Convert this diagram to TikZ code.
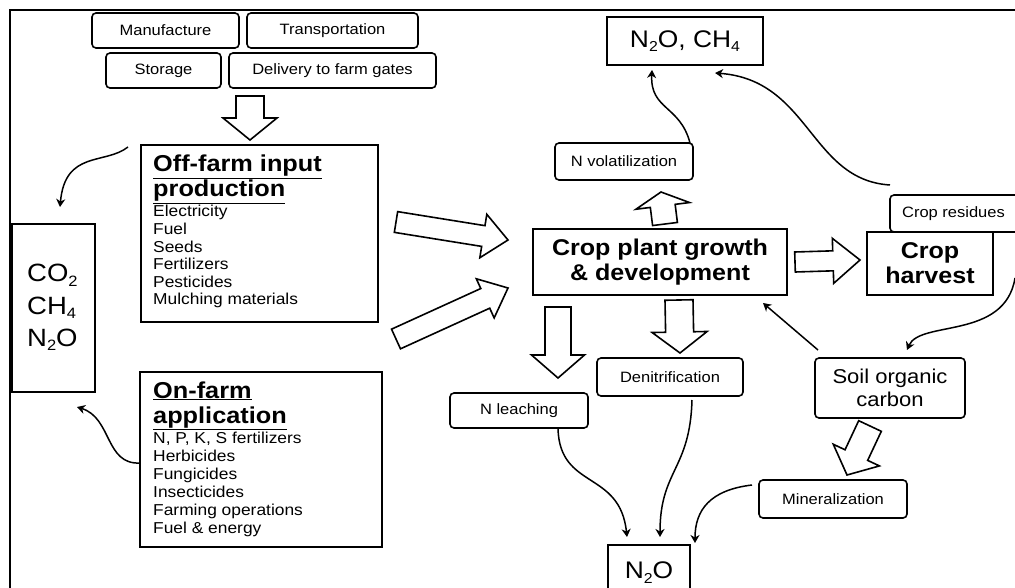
\documentclass[tikz,border=0pt]{standalone}
\usepackage{fontspec}
\setmainfont{Liberation Sans}[FakeStretch=1.1]
\usetikzlibrary{arrows.meta,calc}
% hollow block arrow: tail, tip, shaft half width, head half width, head length
\newcommand\myharrow[5]{%
  \coordinate (#1hb) at ($(#2)!#5pt!(#1)$);
  \draw[hollow] ($(#1)!#3pt!90:(#2)$) -- ($(#1hb)!#3pt!90:(#2)$) -- ($(#1hb)!#4pt!90:(#2)$) -- (#2)
    -- ($(#1hb)!#4pt!-90:(#2)$) -- ($(#1hb)!#3pt!-90:(#2)$) -- ($(#1)!#3pt!-90:(#2)$) -- cycle;}
\newcommand\mysubs[1]{\raisebox{-0.35ex}{\scalebox{0.6}{#1}}}
\begin{document}
\begin{tikzpicture}[x=1pt,y=-1pt,
  box/.style={draw, line width=1.8pt, fill=white, inner sep=0pt, align=center},
  rbox/.style={box, rounded corners=4pt, line width=1.6pt},
  smalltxt/.style={font=\fontsize{15}{18}\selectfont},
  listtxt/.style={font=\fontsize{15.8}{18}\selectfont, inner sep=0pt, anchor=base west},
  titletxt/.style={font=\fontsize{23}{25}\selectfont\bfseries, inner sep=0pt, anchor=base west},
  gastxt/.style={font=\fontsize{25}{30}\selectfont, inner sep=0pt, anchor=base west},
  gasbig/.style={font=\fontsize{24}{28}\selectfont},
  bigbold/.style={font=\fontsize{22.8}{25}\selectfont\bfseries},
  soiltxt/.style={font=\fontsize{20}{23}\selectfont},
  curve/.style={line width=1.5pt, -{Stealth[length=8pt,width=9pt,inset=2.5pt]}},
  hollow/.style={draw, line width=1.6pt, fill=white, line join=miter},
  frame/.style={line width=2pt}
]
\useasboundingbox (0,0) rectangle (1015,588);
\fill[white] (0,0) rectangle (1015,588);
\clip (0,0) rectangle (1015,588);

% outer frame
\coordinate (fr1) at (1015,10.5);
\coordinate (fr2) at (9.5,10.5);
\coordinate (fr3) at (9.5,590);
\draw[frame] (fr1) -- (fr2) -- (fr3);

% top boxes
\node[rbox, smalltxt, minimum width=147pt, minimum height=35pt] (manuf) at (165.5,30.5) {Manufacture};
\node[rbox, smalltxt, minimum width=171pt, minimum height=35pt] (transp) at (332.5,30.5) {Transportation};
\node[rbox, smalltxt, minimum width=115pt, minimum height=35pt] (stor) at (163.5,70.5) {Storage};
\node[rbox, smalltxt, minimum width=207pt, minimum height=35pt] (deliv) at (332.5,70.5) {Delivery to farm gates};

% off-farm box
\node[box, minimum width=237pt, minimum height=177pt] (off) at (259.5,233.5) {};
\node[titletxt] (offt1) at (153,172) {\underline{Off-farm input}};
\node[titletxt] (offt2) at (153,197) {\underline{production}};
\foreach \t [count=\i from 0] in {Electricity, Fuel, Seeds, Fertilizers, Pesticides, Mulching materials}
  \node[listtxt] (offl\i) at (153,{217+17.6*\i}) {\t};

% on-farm box
\node[box, minimum width=242pt, minimum height=175pt] (on) at (261,459.5) {};
\node[titletxt] (ont1) at (153,398) {\underline{On-farm}};
\node[titletxt] (ont2) at (153,423) {\underline{application}};
\foreach \t [count=\i from 0] in {{N, P, K, S fertilizers}, Herbicides, Fungicides, Insecticides, Farming operations, Fuel \& energy}
  \node[listtxt] (onl\i) at (153,{443+18*\i}) {\t};

% gas box left
\node[box, minimum width=83pt, minimum height=168pt] (gas) at (53.5,308) {};
\node[gastxt] (gco2) at (27,282) {CO\mysubs{2}};
\node[gastxt] (gch4) at (27,314) {CH\mysubs{4}};
\node[gastxt] (gn2o) at (27,346) {N\mysubs{2}O};

% right part
\node[box, gasbig, minimum width=156pt, minimum height=48pt] (topgas) at (685,41) {N\mysubs{2}O, CH\mysubs{4}};
\node[rbox, smalltxt, minimum width=138pt, minimum height=37pt] (nvol) at (624,161.5) {N volatilization};
\node[box, bigbold, minimum width=254pt, minimum height=66pt] (crop) at (660,262) {Crop plant growth\\\& development};
\node[rbox, smalltxt, minimum width=135pt, minimum height=37pt] (resid) at (957.5,213.5) {\hspace*{-8pt}Crop residues};
\node[box, bigbold, minimum width=126pt, minimum height=63pt] (harv) at (930,263.5) {Crop\\harvest};
\node[rbox, soiltxt, minimum width=150pt, minimum height=60pt] (soil) at (890,388) {Soil organic\\carbon};
\node[rbox, smalltxt, minimum width=138pt, minimum height=35pt] (nleach) at (519,410.5) {N leaching};
\node[rbox, smalltxt, minimum width=146pt, minimum height=38pt] (denit) at (670,377) {Denitrification};
\node[rbox, smalltxt, minimum width=148pt, minimum height=38pt] (miner) at (833,499) {Mineralization};
\node[box, gasbig, minimum width=82pt, minimum height=55pt] (botgas) at (649,572.5) {N\mysubs{2}O};

% hollow block arrows
\coordinate (a1t) at (250,96);  \coordinate (a1p) at (250,140);
\coordinate (a2t) at (396,222); \coordinate (a2p) at (508,240);
\coordinate (a3t) at (396,339); \coordinate (a3p) at (508,288);
\coordinate (a4t) at (665,224); \coordinate (a4p) at (661,192);
\coordinate (a5t) at (795,262); \coordinate (a5p) at (860,260);
\coordinate (a6t) at (558,307); \coordinate (a6p) at (558,378);
\coordinate (a7t) at (679,300); \coordinate (a7p) at (680,353);
\coordinate (a8t) at (870,426); \coordinate (a8p) at (847,475);
\myharrow{a1t}{a1p}{14}{27}{22}
\myharrow{a2t}{a2p}{10.5}{22}{25}
\myharrow{a3t}{a3p}{10.8}{21.5}{25}
\myharrow{a4t}{a4p}{12.5}{27}{14}
\myharrow{a5t}{a5p}{10}{22.5}{27}
\myharrow{a6t}{a6p}{13}{26.5}{23}
\myharrow{a7t}{a7p}{14}{27.5}{21}
\myharrow{a8t}{a8p}{12.5}{25.5}{22}

% curved connectors
\coordinate (c1s) at (128,147);
\coordinate (c1e) at (60,207);
\draw[curve] (c1s) .. controls (105,165) and (65,150) .. (c1e);
\coordinate (c2s) at (140,463);
\coordinate (c2e) at (77,407);
\draw[curve] (c2s) .. controls (105,465) and (112,418) .. (c2e);
\coordinate (c3s) at (690,143);
\coordinate (c3e) at (652,70);
\draw[curve] (c3s) .. controls (680,105) and (650,110) .. (c3e);
\coordinate (c4s) at (890,185);
\coordinate (c4e) at (715,73);
\draw[curve] (c4s) .. controls (810,180) and (810,80) .. (c4e);
\coordinate (c5s) at (1015,278);
\coordinate (c5e) at (907,350);
\draw[curve] (c5s) .. controls (1005,340) and (920,320) .. (c5e);
\coordinate (c6s) at (818,350);
\coordinate (c6e) at (763,303);
\draw[curve] (c6s) -- (c6e);
\coordinate (c7s) at (558,429);
\coordinate (c7e) at (627,537);
\draw[curve] (c7s) .. controls (560,490) and (620,470) .. (c7e);
\coordinate (c8s) at (692,400);
\coordinate (c8e) at (660,537);
\draw[curve] (c8s) .. controls (690,470) and (660,470) .. (c8e);
\coordinate (c9s) at (752,485);
\coordinate (c9e) at (695,543);
\draw[curve] (c9s) .. controls (710,490) and (695,510) .. (c9e);
\end{tikzpicture}
\end{document}
